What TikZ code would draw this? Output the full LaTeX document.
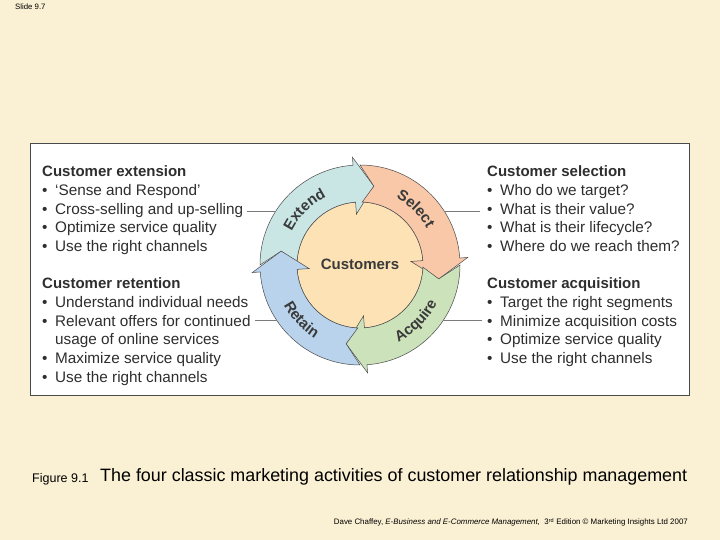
\documentclass[tikz,border=0pt]{standalone}
\usepackage{fontspec}
\setmainfont{Liberation Sans}
\usetikzlibrary{decorations.text}
\definecolor{bgc}{HTML}{FAF0D3}
\definecolor{extc}{HTML}{C9E6E5}
\definecolor{selc}{HTML}{F8C8A8}
\definecolor{acqc}{HTML}{CCE2BA}
\definecolor{retc}{HTML}{B9D3EC}
\definecolor{cusc}{HTML}{FDE2B5}
\definecolor{lblc}{HTML}{3A3A3A}
\definecolor{txtc}{HTML}{2E2E2E}
\definecolor{edgec}{HTML}{4A4A4A}
\definecolor{linec}{HTML}{7A7A7A}
\newcommand\bul{\makebox[13pt][l]{•}}
\tikzset{
  txt/.style={anchor=base west, inner sep=0pt, text=txtc, font=\fontsize{15.3}{18}\selectfont},
  ringarrow/.style={draw=edgec, line width=0.5pt},
  conn/.style={draw=linec, line width=0.9pt},
  arclabel/.style={decorate, decoration={text along path, text align=center, text color=lblc,
    text={|\bfseries\fontsize{15}{18}\selectfont|#1}}},
}
\begin{document}
\begin{tikzpicture}[x=1pt,y=1pt]
\useasboundingbox[fill=bgc] (0,0) rectangle (720,540);
\node[anchor=base west, inner sep=0pt, font=\fontsize{7.8}{9}\selectfont] (slide) at (15,530) {Slide 9.7};
\draw[fill=white, draw=edgec, line width=1pt] (30,144) rectangle (689,396);
% ring
\coordinate (C) at (360,275);
\begin{scope}[shift={(C)}]
\fill[cusc, draw=edgec, line width=0.5pt] (0,0) circle[radius=63];
\foreach \b/\col in {94/extc, 4/selc, -86/acqc, -176/retc}{
  \filldraw[ringarrow, fill=\col] (\b+86:100) arc[start angle=\b+86, end angle=\b, radius=100]
    -- (\b:108) -- (\b-14:80) -- (\b:51) -- (\b:63)
    arc[start angle=\b, end angle=\b+84, radius=63] -- (\b+76:80) -- cycle;
}
\path[arclabel=Extend] (165:76) arc[start angle=165, end angle=105, radius=76];
\path[arclabel=Select] (75:76) arc[start angle=75, end angle=15, radius=76];
\path[arclabel=Acquire] (-80:86) arc[start angle=-80, end angle=-10, radius=86];
\path[arclabel=Retain] (193:86) arc[start angle=193, end angle=253, radius=86];
\end{scope}
\node[font=\bfseries\fontsize{15}{18}\selectfont, text=lblc, inner sep=0pt] (cust) at (360,276) {Customers};
% text blocks
\foreach [count=\i] \t in {\textbf{\fontsize{15}{18}\selectfont Customer extension}, \bul‘Sense and Respond’, \bul Cross-selling and up-selling, \bul Optimize service quality, \bul Use the right channels}
  \node[txt] (ext\i) at (42,{363.5-18.8*(\i-1)}) {\t};
\foreach [count=\i] \t in {\textbf{\fontsize{15}{18}\selectfont Customer retention}, \bul Understand individual needs, \bul Relevant offers for continued, \hspace*{13pt}usage of online services, \bul Maximize service quality, \bul Use the right channels}
  \node[txt] (ret\i) at (42,{251.5-18.8*(\i-1)}) {\t};
\foreach [count=\i] \t in {\textbf{\fontsize{15}{18}\selectfont Customer selection}, \bul Who do we target?, \bul What is their value?, \bul What is their lifecycle?, \bul Where do we reach them?}
  \node[txt] (sel\i) at (487,{363.5-18.8*(\i-1)}) {\t};
\foreach [count=\i] \t in {\textbf{\fontsize{15}{18}\selectfont Customer acquisition}, \bul Target the right segments, \bul Minimize acquisition costs, \bul Optimize service quality, \bul Use the right channels}
  \node[txt] (acq\i) at (487,{251.5-18.8*(\i-1)}) {\t};
% connectors
\coordinate (l1a) at (247,329); \coordinate (l1b) at (276,329);
\coordinate (r1a) at (444,329); \coordinate (r1b) at (480,329);
\coordinate (l2a) at (255,220); \coordinate (l2b) at (277,220);
\coordinate (r2a) at (443,220); \coordinate (r2b) at (482,220);
\draw[conn] (l1a) -- (l1b);
\draw[conn] (r1a) -- (r1b);
\draw[conn] (l2a) -- (l2b);
\draw[conn] (r2a) -- (r2b);
% caption
\node[anchor=base west, inner sep=0pt, font=\fontsize{12.5}{14}\selectfont] (fig) at (32,57) {Figure 9.1};
\node[anchor=base west, inner sep=0pt, font=\fontsize{17.9}{20}\selectfont] (cap) at (100,58) {The four classic marketing activities of customer relationship management};
\node[anchor=base east, inner sep=0pt, font=\fontsize{7.9}{9}\selectfont] (foot) at (688,15) {Dave Chaffey, \textit{E-Business and E-Commerce Management,}\ \ 3\textsuperscript{rd} Edition \textcopyright\ Marketing Insights Ltd 2007};
\end{tikzpicture}
\end{document}
